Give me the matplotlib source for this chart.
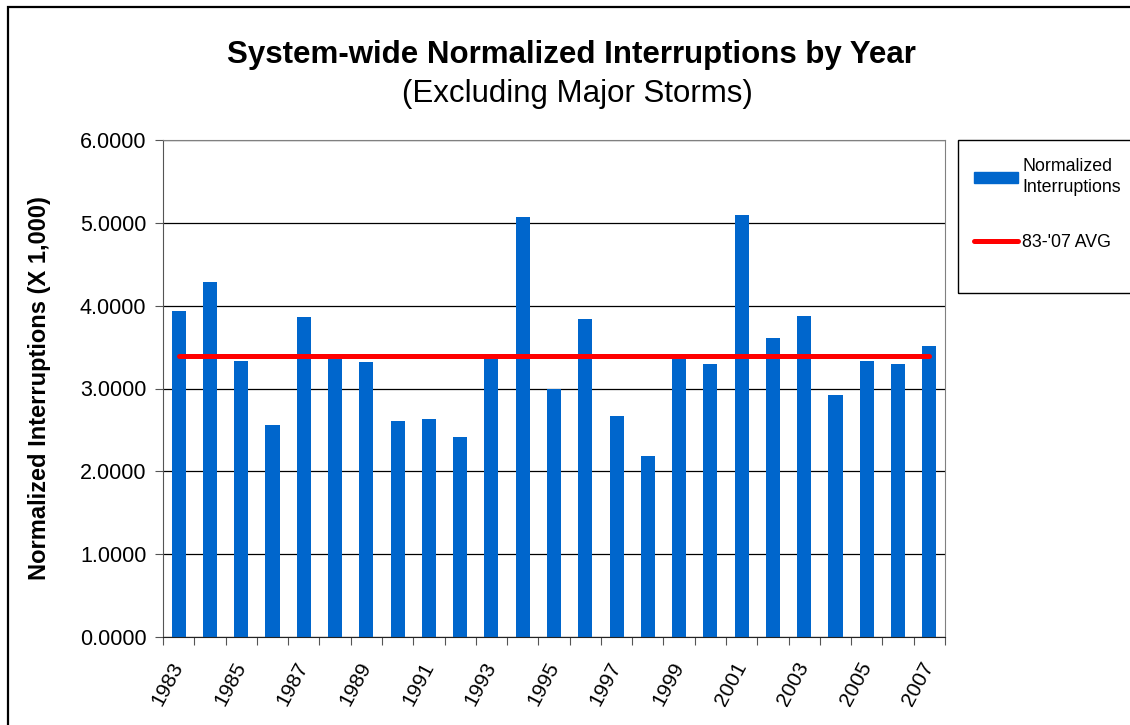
import numpy as np
import matplotlib
matplotlib.use('Agg')
import matplotlib.pyplot as plt
from matplotlib.patches import Rectangle
from matplotlib.lines import Line2D
from matplotlib.patches import Patch

years = list(range(1983, 2008))
interruptions = [3.94, 4.29, 3.33, 2.56, 3.86, 3.36, 3.32, 2.61, 2.63, 2.42,
                 3.37, 5.07, 3.00, 3.84, 2.67, 2.18, 3.37, 3.29, 5.10, 3.61,
                 3.88, 2.92, 3.33, 3.30, 3.51]
avg_value = 3.39
avg = [avg_value] * len(years)
year_labels = [str(y) if (y - 1983) % 2 == 0 else '' for y in years]
yticks = [0, 1, 2, 3, 4, 5, 6]

plt.rcParams['font.family'] = ['Liberation Sans', 'DejaVu Sans']

fig = plt.figure(figsize=(11.3, 7.25), dpi=100)
ax = fig.add_axes([163 / 1130, 1 - 637 / 725, 782 / 1130, 497 / 725])

x = np.arange(len(years))
ax.bar(x, interruptions, width=0.45, color='#0066CC', zorder=2)
ax.plot(x, avg, color='#FF0000', lw=3.6, solid_capstyle='round', zorder=3)

ax.set_xlim(-0.5, len(years) - 0.5)
ax.set_ylim(0, 6)
ax.set_yticks(yticks)
ax.set_yticklabels(['%.4f' % v for v in yticks], fontsize=15.5)
ax.yaxis.grid(True, color='black', lw=0.9, zorder=1)
ax.set_axisbelow(True)

# ticks at category boundaries, labels at bar centres
ax.set_xticks(np.arange(-0.5, len(years), 1.0))
ax.set_xticklabels([])
ax.set_xticks(x, minor=True)
ax.set_xticklabels(year_labels, minor=True, rotation=62, ha='right', va='center',
                   rotation_mode='anchor', fontsize=15)
ax.tick_params(axis='x', which='major', direction='out', length=6, color='#555555')
ax.tick_params(axis='x', which='minor', length=0, pad=19)
ax.tick_params(axis='y', direction='out', length=6, color='#555555', pad=6)

for s in ax.spines.values():
    s.set_color('#808080')
ax.spines['left'].set_color('#555555')
ax.spines['bottom'].set_color('#222222')

ax.set_ylabel('Normalized Interruptions (X 1,000)', fontsize=17, fontweight='bold')
ax.yaxis.set_label_coords(-0.143, 0.5)

fig.text(571 / 1130, 1 - 63 / 725, 'System-wide Normalized Interruptions by Year',
         ha='center', va='baseline', fontsize=22.5, fontweight='bold')
fig.text(577 / 1130, 1 - 102 / 725, '(Excluding Major Storms)',
         ha='center', va='baseline', fontsize=22.5)

# legend
fig.patches.append(Rectangle((958 / 1130, 1 - 293 / 725), 0.2, 153 / 725,
                             transform=fig.transFigure, fill=False, ec='black', lw=1))
handles = [Patch(color='#0066CC', label='Normalized\nInterruptions'),
           Line2D([0], [0], color='#FF0000', lw=3.6, solid_capstyle='round', label="83-'07 AVG")]
leg = fig.legend(handles=handles, loc='upper left', bbox_to_anchor=(974 / 1130, 1 - 158 / 725),
                 frameon=False, fontsize=12.8, handlelength=2.5, handletextpad=0.22,
                 labelspacing=2.15, borderpad=0, borderaxespad=0, handleheight=0.6)
for t in leg.get_texts():
    t.set_linespacing(1.3)

# chart border
fig.patches.append(Rectangle((7.5 / 1130, -0.1), 2, 1.1 - 7.5 / 725,
                             transform=fig.transFigure, fill=False, ec='black', lw=1.6))

fig.savefig('out.png', dpi=100)
